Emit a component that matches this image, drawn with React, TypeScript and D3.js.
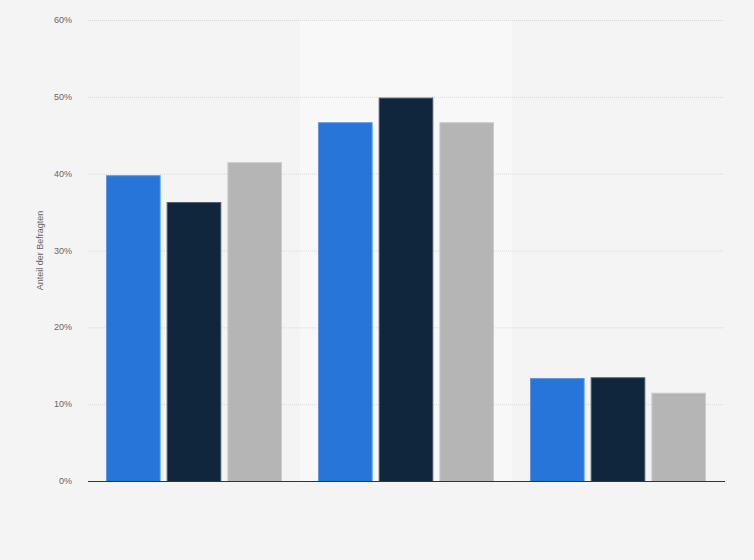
import React, { useRef, useEffect } from "react";
import * as d3 from "d3";

// groups along the x axis (no labels shown in the picture)
const groups = ["A", "B", "C"];
const seriesNames = ["S1", "S2", "S3"];
const s1Values = [39.8, 46.7, 13.4];
const s2Values = [36.3, 49.9, 13.5];
const s3Values = [41.5, 46.7, 11.5];
const yTicks = [0, 10, 20, 30, 40, 50, 60];

const colors = ["#2775d9", "#0f263c", "#b5b5b5"];
const strokes = ["#5a97e6", "#4a5b6d", "#cccccc"];

export default function App() {
  const svgRef = useRef<SVGSVGElement>(null);

  useEffect(() => {
    const w = 754;
    const h = 560;
    const m = { top: 20, right: 30, bottom: 79, left: 88 };
    const svg = d3.select(svgRef.current);
    svg.selectAll("*").remove();

    svg.append("rect").attr("width", w).attr("height", h).attr("fill", "#f4f4f4");

    const x0 = d3.scaleBand().domain(groups).range([m.left, w - m.right]);
    const x1 = d3
      .scaleBand()
      .domain(seriesNames)
      .range([18, x0.bandwidth() - 18])
      .paddingInner(0.1);
    const y = d3.scaleLinear().domain([0, 60]).range([h - m.bottom, m.top]);

    // highlighted middle band
    svg
      .append("rect")
      .attr("x", x0("B")!)
      .attr("y", m.top)
      .attr("width", x0.bandwidth())
      .attr("height", y(0) - m.top)
      .attr("fill", "#f8f8f8");

    // grid
    svg
      .append("g")
      .selectAll("line")
      .data(yTicks.filter((t) => t > 0))
      .join("line")
      .attr("x1", m.left)
      .attr("x2", w - m.right)
      .attr("y1", (d) => y(d) + 0.5)
      .attr("y2", (d) => y(d) + 0.5)
      .attr("stroke", "#d8d8d8")
      .attr("stroke-dasharray", "1,1");

    svg
      .append("g")
      .selectAll("text")
      .data(yTicks)
      .join("text")
      .attr("x", 72)
      .attr("y", (d) => y(d) + 3)
      .attr("text-anchor", "end")
      .attr("font-family", "Arial, Liberation Sans, sans-serif")
      .attr("font-size", 9)
      .attr("fill", "#666")
      .text((d) => d + "%");

    const all = [s1Values, s2Values, s3Values];
    all.forEach((vals, si) => {
      svg
        .append("g")
        .selectAll("rect")
        .data(vals)
        .join("rect")
        .attr("x", (d, i) => x0(groups[i])! + x1(seriesNames[si])! + 0.5)
        .attr("y", (d) => y(d) + 0.5)
        .attr("width", x1.bandwidth() - 1)
        .attr("height", (d) => y(0) - y(d))
        .attr("fill", colors[si])
        .attr("stroke", strokes[si])
        .attr("stroke-width", 1);
    });

    // baseline
    svg
      .append("line")
      .attr("x1", m.left)
      .attr("x2", w - m.right + 1)
      .attr("y1", y(0) + 0.5)
      .attr("y2", y(0) + 0.5)
      .attr("stroke", "#333")
      .attr("stroke-width", 1.2);

    svg
      .append("text")
      .attr("transform", `translate(43, ${(y(0) + m.top) / 2}) rotate(-90)`)
      .attr("text-anchor", "middle")
      .attr("font-family", "Arial, Liberation Sans, sans-serif")
      .attr("font-size", 9)
      .attr("fill", "#666")
      .text("Anteil der Befragten");
  }, []);

  return (
    <svg
      ref={svgRef}
      width={754}
      height={560}
      style={{ position: "absolute", left: 0, top: 0, display: "block" }}
    />
  );
}
